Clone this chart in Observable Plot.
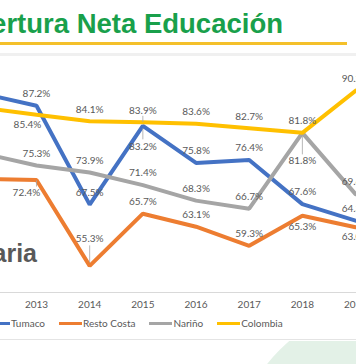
<!DOCTYPE html>
<html><head><meta charset="utf-8">
<script src="https://cdn.jsdelivr.net/npm/d3@7"></script>
<script src="https://cdn.jsdelivr.net/npm/@observablehq/plot@0.6"></script>
<style>
html,body{margin:0;padding:0;background:#fff;}
#wrap{position:relative;width:356px;height:364px;overflow:hidden;background:#fff;font-family:Lato,"Open Sans",sans-serif;}
#wrap svg{position:absolute;left:0;top:0;}
.abs{position:absolute;white-space:nowrap;}
#title{right:73px;top:10px;font:bold 27.5px/27px "Liberation Sans",Arial,sans-serif;color:#19A04B;}
#uline{left:0;top:42px;width:347px;height:3px;background:#F4C02A;}
#band{left:0;top:53px;width:356px;height:3px;background:#f0f0f0;}
#bline{left:0;top:339px;width:356px;height:1px;background:#e4e4e4;}
#circClip{left:0;top:341px;width:356px;height:23px;overflow:hidden;}
#circ{position:absolute;left:230px;top:-41px;width:340px;height:340px;border-radius:50%;background:#e3f1e7;}
#sub{right:319px;top:241px;font:bold 25px/25px "Liberation Sans",Arial,sans-serif;color:#595959;}
#legend{left:-13px;top:317px;display:flex;align-items:center;font-size:10px;color:#595959;}
#legend .it{display:flex;align-items:center;margin-right:14px;}
#legend .sw{width:23px;height:3px;margin-right:1px;}
</style></head><body>
<div id="wrap">
  <div class="abs" id="circClip"><div id="circ"></div></div>
  <div class="abs" id="title">Cobertura Neta Educación</div>
  <div class="abs" id="uline"></div>
  <div class="abs" id="band"></div>
  <div class="abs" id="bline"></div>
  <div class="abs" id="sub">Primaria</div>
  <div class="abs" id="legend"></div>
</div>
<script>
// ---- data ----
const years = [2012, 2013, 2014, 2015, 2016, 2017, 2018, 2019];
const tumaco = [89.6, 87.2, 67.5, 83.2, 75.8, 76.4, 67.6, 64.3];
const restoCosta = [72.6, 72.4, 55.3, 65.7, 63.1, 59.3, 65.3, 63.0];
const narino = [77.7, 75.3, 73.9, 71.4, 68.3, 66.7, 81.8, 69.6];
const colombia = [86.8, 85.4, 84.1, 83.9, 83.6, 82.7, 81.8, 90.2];
const seriesNames = ["Tumaco", "Resto Costa", "Nariño", "Colombia"];
const seriesValues = [tumaco, restoCosta, narino, colombia];
const colors = ["#4472C4", "#ED7D31", "#A5A5A5", "#FFC000"];

// ---- label placement (style config) ----
const labelOffsets = {
  "Tumaco-2015": [0, 21],
  "Colombia-2013": [-9, 10],
  "Resto Costa-2013": [-10, 13],
  "Nariño-2018": [0, 28],
  "Resto Costa-2018": [0, 11],
  "Resto Costa-2019": [0, 10],
  "Resto Costa-2014": [0, -27]
};
const leaders = [
  {key: "Resto Costa-2014", top: -20, bottom: 3},
  {key: "Nariño-2018", top: 3, bottom: -22},
  {key: "Tumaco-2015", top: 3, bottom: -14},
  {key: "Colombia-2015", top: -6, bottom: 0},
  {key: "Resto Costa-2013", top: 1, bottom: -7}
];

const rows = [];
seriesNames.forEach((s, si) => years.forEach((yr, i) =>
  rows.push({series: s, year: yr, value: seriesValues[si][i], key: s + "-" + yr})));
const labelRows = rows.filter(d => d.year >= 2013);

const groups = d3.group(labelRows, d => (labelOffsets[d.key] || [0, -12]).join(","));
const textMarks = [];
for (const [k, arr] of groups) {
  const [dx, dy] = k.split(",").map(Number);
  textMarks.push(Plot.text(arr, {x: "year", y: "value", text: d => d.value.toFixed(1) + "%",
    dx, dy, fill: "#595959", fontSize: 10}));
}
const leaderMarks = leaders.map(l => {
  const d = rows.find(r => r.key === l.key);
  return Plot.ruleX([d], {x: "year", y1: "value", y2: "value", stroke: "#a6a6a6", strokeWidth: 0.8,
    insetTop: l.top, insetBottom: l.bottom});
});

const chart = Plot.plot({
  width: 356, height: 364,
  marginTop: 41, marginBottom: 72, marginLeft: 0, marginRight: 0,
  x: {domain: [2012.323, 2019.018], axis: null, label: null},
  y: {domain: [50, 100], axis: null, label: null},
  color: {domain: seriesNames, range: colors},
  style: {fontFamily: "Lato, 'Open Sans', sans-serif", fontSize: "10px", color: "#595959", background: "transparent"},
  marks: [
    Plot.ruleY([50], {stroke: "#d9d9d9"}),
    Plot.axisX({ticks: years.filter(y => y >= 2013), tickFormat: "d", tickSize: 0, tickPadding: 8, fill: "#595959", label: null}),
    Plot.line(rows, {x: "year", y: "value", z: "series", stroke: "series", strokeWidth: 4, clip: true, strokeLinejoin: "miter"}),
    ...leaderMarks,
    ...textMarks
  ]
});
document.getElementById("wrap").insertBefore(chart, document.getElementById("title"));

const legend = document.getElementById("legend");
seriesNames.forEach((s, i) => {
  const it = document.createElement("div"); it.className = "it";
  const sw = document.createElement("div"); sw.className = "sw"; sw.style.background = colors[i];
  const tx = document.createElement("span"); tx.textContent = s;
  it.appendChild(sw); it.appendChild(tx); legend.appendChild(it);
});
</script>
</body></html>
